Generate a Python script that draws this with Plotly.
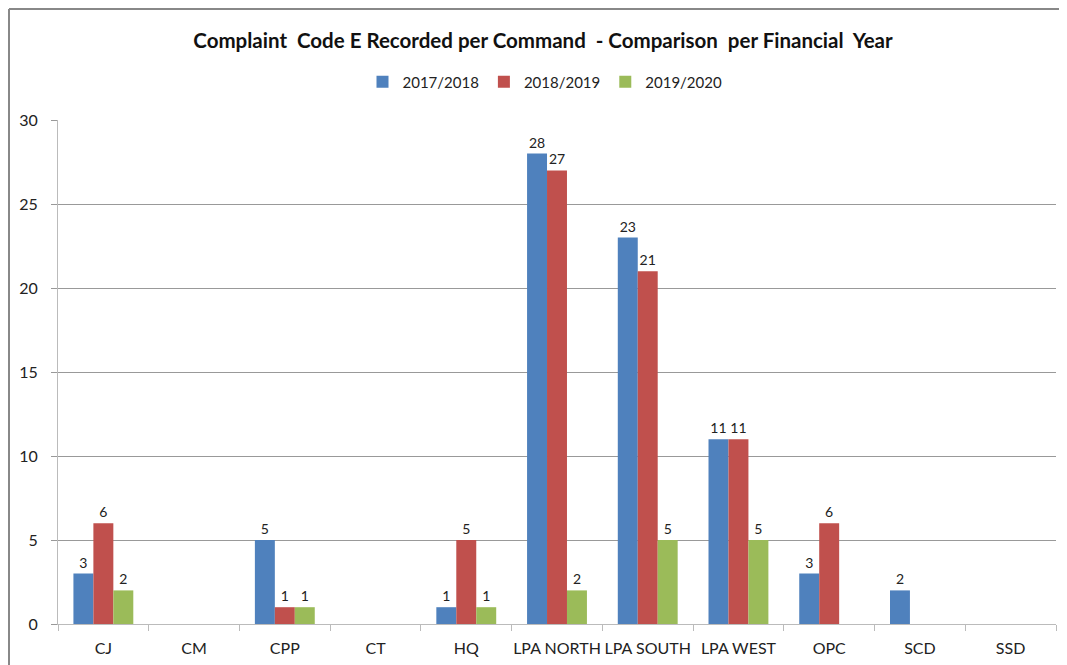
import plotly.graph_objects as go

categories = ["CJ", "CM", "CPP", "CT", "HQ", "LPA NORTH", "LPA SOUTH", "LPA WEST", "OPC", "SCD", "SSD"]
fy_2017_2018 = [3, 0, 5, 0, 1, 28, 23, 11, 3, 2, 0]
fy_2018_2019 = [6, 0, 1, 0, 5, 27, 21, 11, 6, 0, 0]
fy_2019_2020 = [2, 0, 1, 0, 1, 2, 5, 5, 0, 0, 0]
series_names = ["2017/2018", "2018/2019", "2019/2020"]
colors = ["#4F81BD", "#C0504D", "#9BBB59"]

OFF = 8  # page body margin
W, H = 1067 - OFF, 665 - OFF
L, R, T, B = 58 - OFF, 1056 - OFF, 120 - OFF, 624 - OFF

font = "Lato, Open Sans, sans-serif"

fig = go.Figure()
for name, vals, col in zip(series_names, [fy_2017_2018, fy_2018_2019, fy_2019_2020], colors):
    fig.add_trace(go.Bar(
        x=categories, y=vals, name=name,
        marker=dict(color=col, line=dict(width=0)),
        text=[str(v) if v else "" for v in vals],
        textposition="outside", cliponaxis=False,
        textfont=dict(family=font, size=14, color="#222"),
    ))

fig.update_layout(
    width=W, height=H,
    margin=dict(l=L, r=W - R, t=T, b=H - B, pad=0, autoexpand=False),
    paper_bgcolor="white", plot_bgcolor="white",
    barmode="group", bargap=0.34, bargroupgap=0,
    title=dict(text="<b>Complaint  Code E Recorded per Command  - Comparison  per Financial  Year</b>",
               x=(543 - OFF) / W, xanchor="center", y=1 - (41 - OFF) / H, yanchor="middle",
               font=dict(family=font, size=20.5, color="#111")),
    legend=dict(orientation="h", x=(545 - OFF - L) / (R - L), xanchor="center",
                y=1 + (T - (82 - OFF)) / (B - T), yanchor="middle",
                font=dict(family=font, size=15, color="#222"), itemwidth=30, traceorder="normal"),
    showlegend=True,
    xaxis=dict(showline=True, linecolor="#BBBBBB", linewidth=1, ticks="outside", tickson="boundaries",
               ticklen=6, tickcolor="#BBBBBB", tickfont=dict(family=font, size=16, color="#222"),
               tickangle=0, ticklabelstandoff=10, showgrid=False, fixedrange=True),
    yaxis=dict(range=[0, 30], dtick=5, showline=True, linecolor="#BBBBBB", linewidth=1,
               ticks="outside", ticklen=6, tickcolor="#999999",
               showgrid=True, gridcolor="#999999", gridwidth=1, zeroline=False,
               tickfont=dict(family=font, size=16, color="#222"), ticklabelstandoff=10),
)

# chart frame (left and top border visible)
fx = (9 - OFF - L) / (R - L)
fy = 1 + (T - (9 - OFF)) / (B - T)
fig.add_shape(type="line", xref="paper", yref="paper", x0=fx, x1=fx, y0=-0.2, y1=fy,
              line=dict(color="#888888", width=2))
fig.add_shape(type="line", xref="paper", yref="paper", x0=fx, x1=1.05, y0=fy, y1=fy,
              line=dict(color="#888888", width=2))

fig.write_html("out.html")
